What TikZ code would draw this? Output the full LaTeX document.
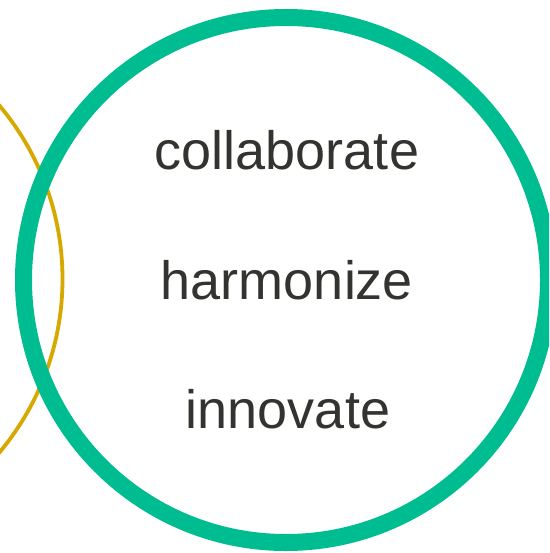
\documentclass[tikz,border=0pt]{standalone}
\usepackage{fontspec}
\setmainfont{Liberation Sans}
\definecolor{ringgreen}{RGB}{0,189,145}
\definecolor{ringyellow}{RGB}{214,168,0}
\definecolor{wordgray}{RGB}{51,51,47}
\begin{document}
\begin{tikzpicture}[x=1pt,y=-1pt,
  word/.style={font=\fontsize{54}{60}\selectfont, text=wordgray, anchor=base, inner sep=0pt}]
\useasboundingbox (0,0) rectangle (549,553);
\clip (0,0) rectangle (549,553);
\fill[white] (0,0) rectangle (549,553);
\draw[ringyellow, line width=3.8pt] (-207.5,279) circle[radius=270];
\draw[ringgreen, line width=17pt] (286,280) circle[radius=262.5];
\node[word] (collab) at (287,170) {collaborate};
\node[word] (harmon) at (287,299) {harmonize};
\node[word] (innov) at (288,428) {innovate};
\end{tikzpicture}
\end{document}
